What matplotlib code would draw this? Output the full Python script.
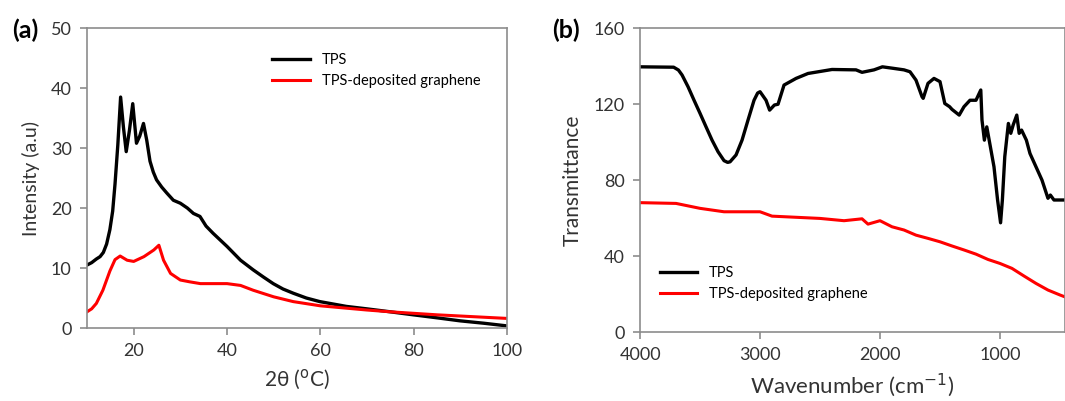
import matplotlib.pyplot as plt

plt.rcParams["font.family"] = ["Lato", "DejaVu Sans"]

# (a) XRD, values
xrd_angle = [10, 11, 12, 12.8, 13.5, 14.2, 14.9, 15.5, 16.0, 16.6, 17.2, 17.8, 18.4,
             19.1, 19.8, 20.6, 21.3, 22.1, 22.8, 23.5, 24.2, 24.9, 26.0, 27.1, 28.5,
             30.0, 31.5, 32.8, 34.2, 35.5, 37.0, 38.5, 40.0, 42.9, 45.6, 47.8, 49.9,
             52.0, 54.2, 57.0, 59.9, 65.6, 69.9, 75.0, 79.9, 85.0, 89.9, 95.0, 100]
xrd_tps = [10.5, 10.9, 11.5, 11.9, 12.6, 14.0, 16.4, 19.5, 24.0, 30.5, 38.5, 33.5, 29.4,
           33.0, 37.4, 30.8, 32.0, 34.1, 31.3, 27.8, 26.0, 24.7, 23.5, 22.5, 21.3,
           20.8, 20.0, 19.1, 18.6, 17.0, 15.8, 14.7, 13.6, 11.3, 9.7, 8.5, 7.4,
           6.5, 5.8, 5.0, 4.4, 3.6, 3.2, 2.7, 2.2, 1.7, 1.2, 0.8, 0.35]

xrd_angle_g = [10, 11, 12, 13.4, 14.9, 16.0, 17.1, 18.6, 20.0, 22.2, 24.3, 25.4, 26.4,
               27.9, 30.0, 32.0, 34.3, 37.0, 40.0, 42.9, 45.6, 48.0, 50.0, 54.2, 60.0,
               65.7, 70.0, 75.0, 80.0, 85.0, 90.0, 95.0, 100]
xrd_graphene = [2.7, 3.2, 4.1, 6.3, 9.5, 11.4, 12.0, 11.3, 11.1, 11.9, 13.0, 13.8, 11.3,
                9.1, 8.0, 7.7, 7.4, 7.4, 7.4, 7.1, 6.3, 5.7, 5.2, 4.4, 3.7,
                3.3, 3.0, 2.7, 2.45, 2.2, 2.0, 1.8, 1.6]

# (b) FTIR, values
ir_wave = [4000, 3720, 3680, 3650, 3600, 3550, 3500, 3450, 3400, 3350, 3300, 3270, 3250,
           3200, 3150, 3100, 3050, 3020, 3000, 2950, 2920, 2880, 2850, 2800, 2700, 2600,
           2400, 2200, 2150, 2050, 1980, 1900, 1800, 1750, 1700, 1650, 1640, 1600, 1550,
           1500, 1460, 1420, 1400, 1340, 1300, 1250, 1200, 1160, 1150, 1130, 1110, 1080,
           1050, 1020, 995, 980, 960, 930, 910, 890, 860, 840, 820, 780, 750, 700, 650,
           600, 580, 550, 500, 450]
ir_tps = [139.6, 139.4, 137.9, 135.3, 129.1, 122.0, 115.1, 108.0, 101.0, 94.9, 90.2, 89.3,
          89.6, 93.2, 101.0, 111.6, 122.0, 125.8, 126.5, 122.0, 116.8, 119.5, 119.9,
          130.0, 133.5, 136.1, 138.2, 138.0, 136.7, 138.0, 139.6, 138.9, 138.0, 137.0,
          132.6, 123.9, 123.0, 130.9, 133.5, 131.8, 120.3, 118.6, 117.2, 114.2, 118.6,
          122.0, 122.0, 127.4, 111.6, 101.0, 108.0, 97.5, 87.0, 69.5, 57.5, 69.5, 92.3,
          109.8, 104.6, 109.0, 114.2, 104.6, 106.3, 101.0, 94.0, 87.0, 80.0, 70.4, 72.1,
          69.5, 69.5, 69.5]

ir_wave_g = [4000, 3700, 3500, 3300, 3000, 2900, 2700, 2500, 2300, 2150, 2100, 2000, 1900,
             1800, 1700, 1600, 1500, 1400, 1300, 1200, 1100, 1000, 900, 800, 700, 600,
             500, 450]
ir_graphene = [68.1, 67.7, 65.1, 63.3, 63.3, 61.0, 60.4, 59.8, 58.6, 59.6, 56.8, 58.6, 55.4,
               53.7, 51.0, 49.3, 47.5, 45.3, 43.2, 41.0, 38.2, 36.1, 33.5, 29.5, 25.6, 22.1,
               19.5, 18.3]

spine_c = "#8c8c8c"
text_c = "#333333"

fig = plt.figure(figsize=(10.65, 4.01), dpi=100)
ax1 = fig.add_axes([0.0817, 0.182, 0.3944, 0.748])
ax2 = fig.add_axes([0.601, 0.172, 0.399, 0.758])

ax1.plot(xrd_angle, xrd_tps, color="black", lw=2.4, label="TPS")
ax1.plot(xrd_angle_g, xrd_graphene, color="red", lw=2.2, label="TPS-deposited graphene")
ax1.set_xlim(10, 100)
ax1.set_ylim(0, 50)
ax1.set_xticks([20, 40, 60, 80, 100])
ax1.set_yticks([0, 10, 20, 30, 40, 50])
ax1.set_xlabel("2θ ($^{\\mathrm{o}}$C)", fontsize=15, color=text_c, labelpad=6)
ax1.set_ylabel("Intensity (a.u)", fontsize=14, color=text_c, labelpad=8)
ax1.legend(loc="upper left", bbox_to_anchor=(0.41, 0.96), frameon=False, fontsize=10.5,
           handlelength=2.6, handletextpad=0.8, labelspacing=0.5)

ax2.plot(ir_wave, ir_tps, color="black", lw=2.4, label="TPS")
ax2.plot(ir_wave_g, ir_graphene, color="red", lw=2.2, label="TPS-deposited graphene")
ax2.set_xlim(4000, 458)
ax2.set_ylim(0, 160)
ax2.set_xticks([4000, 3000, 2000, 1000])
ax2.set_yticks([0, 40, 80, 120, 160])
ax2.set_xlabel("Wavenumber (cm$^{\\mathrm{-1}}$)", fontsize=16, color=text_c, labelpad=6)
ax2.set_ylabel("Transmittance", fontsize=15, color=text_c, labelpad=8)
ax2.legend(loc="upper left", bbox_to_anchor=(0.015, 0.26), frameon=False, fontsize=10.5,
           handlelength=2.6, handletextpad=0.8, labelspacing=0.5)

for ax in (ax1, ax2):
    for s in ax.spines.values():
        s.set_color(spine_c)
        s.set_linewidth(1.2)
    ax.tick_params(direction="out", length=5, width=1.2, color=spine_c,
                   labelsize=13, labelcolor=text_c, pad=6)

fig.text(0.011, 0.925, "(a)", fontsize=18, fontweight="bold", ha="left", va="center")
fig.text(0.518, 0.925, "(b)", fontsize=18, fontweight="bold", ha="left", va="center")

fig.savefig("out.png", dpi=100)
